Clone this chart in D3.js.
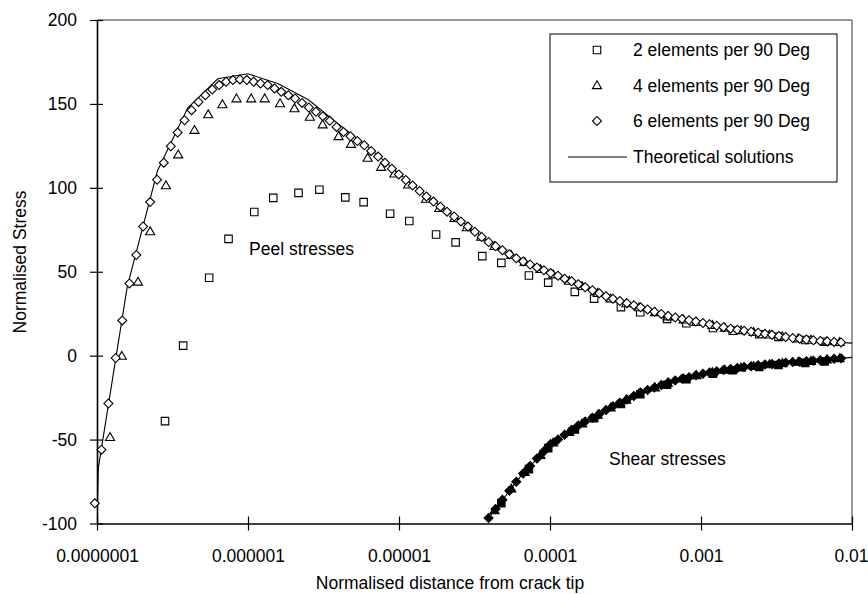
<!DOCTYPE html>
<html>
<head>
<meta charset="utf-8">
<script src="https://cdn.jsdelivr.net/npm/d3@7"></script>
<style>
  body { margin: 0; background: #fff; }
</style>
</head>
<body>
<div id="chart"></div>
<script>
// 6 elements per 90 Deg (diamonds)
const x6 = [
  9.67e-8, 1.07e-7, 1.19e-7, 1.33e-7, 1.47e-7, 1.64e-7, 1.82e-7, 2.02e-7, 2.25e-7, 2.50e-7,
  2.77e-7, 3.08e-7, 3.42e-7, 3.80e-7, 4.23e-7, 4.70e-7, 5.22e-7, 5.80e-7, 6.44e-7, 7.16e-7,
  7.95e-7, 8.84e-7, 9.82e-7, 1.09e-6, 1.21e-6, 1.35e-6, 1.50e-6, 1.66e-6, 1.85e-6, 2.05e-6,
  2.28e-6, 2.53e-6, 2.82e-6, 3.13e-6, 3.48e-6, 3.86e-6, 4.29e-6, 4.77e-6, 5.30e-6, 5.89e-6,
  6.54e-6, 7.27e-6, 8.08e-6, 8.97e-6, 9.97e-6, 1.11e-5, 1.23e-5, 1.37e-5, 1.52e-5, 1.69e-5,
  1.88e-5, 2.08e-5, 2.32e-5, 2.57e-5, 2.86e-5, 3.18e-5, 3.53e-5, 3.92e-5, 4.36e-5, 4.84e-5,
  5.38e-5, 5.98e-5, 6.64e-5, 7.38e-5, 8.20e-5, 9.11e-5, 1.01e-4, 1.13e-4, 1.25e-4, 1.39e-4,
  1.54e-4, 1.71e-4, 1.91e-4, 2.12e-4, 2.35e-4, 2.61e-4, 2.90e-4, 3.23e-4, 3.59e-4, 3.98e-4,
  4.43e-4, 4.92e-4, 5.46e-4, 6.07e-4, 6.75e-4, 7.50e-4, 8.33e-4, 9.25e-4, 1.03e-3, 1.14e-3,
  1.27e-3, 1.41e-3, 1.57e-3, 1.74e-3, 1.93e-3, 2.15e-3, 2.39e-3, 2.65e-3, 2.95e-3, 3.28e-3,
  3.64e-3, 4.05e-3, 4.50e-3, 4.99e-3, 5.55e-3, 6.17e-3, 6.85e-3, 7.61e-3, 8.46e-3
];
const peel6 = [
  -88, -56, -28.5, -1.4, 21, 43, 60, 77, 91.5, 104.8,
  115, 124.8, 132.9, 140.3, 146.3, 151.2, 155.2, 158.6, 161.2, 163.2,
  164.2, 164.6, 164.2, 163.2, 162.2, 161.2, 159.2, 157.2, 155.2, 153.2,
  150.6, 147.9, 145.3, 142.7, 139.9, 136.3, 133.3, 130.7, 127.9, 125.4,
  122, 118.6, 115, 111.4, 108, 104.7, 101.4, 98.1, 94.8, 91.8,
  88.8, 85.8, 82.9, 80, 76.9, 73.8, 70.7, 67.7, 65.2, 62.8,
  60.4, 58, 56.1, 54.3, 52.6, 50.9, 49.2, 47.6, 45.9, 44.3,
  42.6, 40.8, 39, 37.2, 35.4, 33.9, 32.6, 31.3, 30.1, 28.8,
  27.5, 26.2, 24.9, 23.6, 22.7, 21.9, 21.1, 20.3, 19.5, 18.7,
  17.8, 17, 16.1, 15.5, 14.9, 14.3, 13.7, 13, 12.4, 11.7,
  11.1, 10.5, 10.1, 9.6, 9.2, 8.8, 8.5, 8.2, 7.9
];
// shear values for the last points of x6
const shear6 = [
  -96.7, -91.3, -85.9, -80.5, -75.1, -70.2, -65.8, -61.3, -56.9, -52.6,
  -49.9, -47.1, -44.4, -41.6, -39.2, -37.0, -34.7, -32.4, -30.2, -28.1,
  -26.1, -24.0, -22.0, -20.5, -19.0, -17.5, -16.0, -14.8, -13.8, -12.8,
  -11.7, -10.8, -10.1, -9.3, -8.6, -7.9, -7.3, -6.8, -6.3, -5.7,
  -5.3, -4.9, -4.6, -4.2, -3.8, -3.6, -3.3, -3.0, -2.7, -2.3,
  -1.9, -1.6
];

// 4 elements per 90 Deg (triangles)
const x4 = [
  1.22e-7, 1.46e-7, 1.87e-7, 2.25e-7, 2.86e-7, 3.45e-7, 4.42e-7, 5.45e-7, 6.77e-7, 8.39e-7,
  1.05e-6, 1.29e-6, 1.63e-6, 2.03e-6, 2.57e-6, 3.12e-6, 3.98e-6, 4.81e-6, 6.20e-6, 7.61e-6,
  9.32e-6, 1.15e-5, 1.51e-5, 1.85e-5, 2.33e-5, 2.81e-5, 3.50e-5, 4.29e-5, 5.54e-5, 6.79e-5,
  8.64e-5, 1.05e-4, 1.34e-4, 1.63e-4, 2.07e-4, 2.52e-4, 3.20e-4, 3.89e-4, 4.96e-4, 6.03e-4,
  7.67e-4, 9.32e-4, 1.19e-3, 1.44e-3, 1.84e-3, 2.23e-3, 2.84e-3, 3.46e-3, 4.40e-3, 5.35e-3,
  6.81e-3, 8.28e-3
];
const peel4 = [
  -49, -0.6, 43.6, 73.6, 101, 119.4, 134, 143.3, 149.3, 152.8,
  152.8, 152.8, 149.9, 146.9, 141.8, 137.3, 130.3, 125.7, 117.4, 112,
  108, 101.5, 93, 87.5, 81.5, 76, 70.3, 64.8, 59.5, 55.3,
  51.1, 47.9, 44.1, 41.0, 36.9, 33.6, 30.7, 28.3, 25.4, 22.9,
  21.0, 19.6, 17.8, 16.2, 14.7, 13.6, 12.1, 11.0, 9.8, 9.0,
  8.1, 7.6
];
const shear4 = [
  -92.6, -79.6, -69.8, -59.6, -52.2, -45.9, -40.9, -35.7, -31.4, -26.7,
  -22.9, -19.4, -16.6, -14.1, -12.1, -10.3, -8.9, -7.6, -6.6, -5.6,
  -4.9, -4.1, -3.6, -2.8, -2.1
];

// 2 elements per 90 Deg (squares)
const x2 = [
  2.82e-7, 3.72e-7, 5.53e-7, 7.43e-7, 1.10e-6, 1.47e-6, 2.16e-6, 2.97e-6, 4.41e-6, 5.83e-6,
  8.73e-6, 1.17e-5, 1.76e-5, 2.37e-5, 3.56e-5, 4.76e-5, 7.25e-5, 9.73e-5, 1.46e-4, 1.96e-4,
  2.95e-4, 3.96e-4, 5.96e-4, 8.00e-4, 1.20e-3, 1.62e-3, 2.43e-3, 3.26e-3, 4.90e-3, 6.58e-3
];
const peel2 = [
  -39, 6, 46.4, 69.6, 85.6, 94, 97, 98.9, 94.3, 91.5,
  84.6, 80.2, 72.2, 67.5, 59.3, 55.3, 47.8, 43.5, 38, 34,
  28.9, 25.9, 21.9, 19.3, 16.5, 14.8, 12.8, 11.2, 9.3, 8.3
];
const shear2 = [
  -87.9, -67.6, -55.1, -44.0, -37.3, -28.8, -23.0, -17.3, -14.1, -10.7,
  -8.7, -6.7, -5.6, -4.3, -3.4
];

// theoretical solutions
const theoryPeelX = [
  1e-7, 1.02e-7, 1.585e-7, 2.512e-7, 3.981e-7, 6.31e-7, 1e-6, 1.585e-6, 2.512e-6, 3.981e-6,
  6.31e-6, 1e-5, 1.585e-5, 2.512e-5, 3.981e-5, 6.31e-5, 1e-4, 1.585e-4, 2.512e-4, 3.981e-4,
  6.31e-4, 1e-3, 1.585e-3, 2.512e-3, 3.981e-3, 6.31e-3, 1e-2
];
const theoryPeel = [
  -100, -67, 41, 110, 147.5, 165, 168, 162, 152.5, 138,
  124, 108.5, 94, 81, 67.5, 57, 49.5, 42.3, 34.4, 28.9,
  23.2, 19.8, 16.1, 13.4, 10.6, 8.7, 7.5
];
const theoryShearX = [3.981e-5, 6.31e-5, 1e-4, 1.585e-4, 2.512e-4, 3.981e-4, 6.31e-4, 1e-3, 1.585e-3, 2.512e-3, 3.981e-3, 6.31e-3, 1e-2];
const theoryShear = [-96, -72.5, -53, -41, -31, -22, -15.5, -11, -7.8, -5.5, -3.9, -2.6, -1];

const xTicks = [1e-7, 1e-6, 1e-5, 1e-4, 1e-3, 1e-2];
const xTickLabels = ["0.0000001", "0.000001", "0.00001", "0.0001", "0.001", "0.01"];
const yTicks = [-100, -50, 0, 50, 100, 150, 200];
const legendLabels = ["2 elements per 90 Deg", "4 elements per 90 Deg", "6 elements per 90 Deg", "Theoretical solutions"];

const width = 868, height = 594;
const plotL = 97, plotR = 852, plotT = 20, plotB = 523.5;

const svg = d3.select("#chart")
  .append("svg")
  .attr("width", width)
  .attr("height", height)
  .style("font-family", "'Liberation Sans', Arial, Helvetica, sans-serif")
  .style("font-size", "17.5px");

const x = d3.scaleLog().domain([1e-7, 1e-2]).range([plotL, plotR]);
const y = d3.scaleLinear().domain([-100, 200]).range([plotB, plotT]);

svg.append("clipPath").attr("id", "plot")
  .append("rect")
  .attr("x", plotL).attr("y", plotT)
  .attr("width", plotR - plotL).attr("height", plotB - plotT);

// frame top / right
svg.append("path")
  .attr("d", `M${plotL},${plotT}H${plotR}V${plotB}`)
  .attr("fill", "none")
  .attr("stroke", "#333")
  .attr("stroke-width", 1);

// axes (plain hyphen for negatives, like the original)
const yAxis = svg.append("g")
  .attr("transform", `translate(${plotL},0)`)
  .call(d3.axisLeft(y).tickValues(yTicks).tickFormat(d => String(d))
    .tickSizeInner(7).tickSizeOuter(0).tickPadding(13));
yAxis.selectAll(".tick line").attr("x1", 6);

const xAxis = svg.append("g")
  .attr("transform", `translate(0,${plotB})`)
  .call(d3.axisBottom(x).tickValues(xTicks).tickFormat((d, i) => xTickLabels[i])
    .tickSizeInner(7).tickSizeOuter(0).tickPadding(19));
xAxis.selectAll(".tick line").attr("y1", -7);
// last label sits at the page edge
xAxis.selectAll(".tick text").filter(d => d === 1e-2).attr("text-anchor", "end").attr("x", 16);

svg.selectAll(".domain").attr("stroke", "#000").attr("stroke-width", 1.6);
svg.selectAll(".tick line").attr("stroke", "#000").attr("stroke-width", 1.2);
svg.selectAll(".tick text")
  .attr("fill", "#000")
  .style("font-family", "'Liberation Sans', Arial, Helvetica, sans-serif")
  .style("font-size", "17.5px");

// theoretical lines
const line = d3.line().x(d => x(d[0])).y(d => y(d[1]));
const lines = svg.append("g").attr("clip-path", "url(#plot)");
lines.append("path")
  .datum(d3.zip(theoryPeelX, theoryPeel))
  .attr("d", line)
  .attr("fill", "none").attr("stroke", "#000").attr("stroke-width", 1.1);
lines.append("path")
  .datum(d3.zip(theoryShearX, theoryShear))
  .attr("d", line)
  .attr("fill", "none").attr("stroke", "#000").attr("stroke-width", 1.1);

// marker shapes
const sym = {
  square: d3.symbol(d3.symbolSquare, 56)(),
  triangle: d3.symbol(d3.symbolTriangle, 36)(),
  diamond: d3.symbol(d3.symbolSquare, 40)()
};

function drawMarkers(xs, ys, shape, fill) {
  const rot = shape === "diamond" ? " rotate(45)" : "";
  svg.append("g")
    .selectAll("path")
    .data(d3.zip(xs, ys))
    .enter()
    .append("path")
    .attr("d", sym[shape])
    .attr("transform", d => `translate(${x(d[0])},${y(d[1])})${rot}`)
    .attr("fill", fill)
    .attr("stroke", "#000")
    .attr("stroke-width", 1.1);
}

drawMarkers(x2, peel2, "square", "#fff");
drawMarkers(x4, peel4, "triangle", "#fff");
drawMarkers(x6, peel6, "diamond", "#fff");

drawMarkers(x2.slice(x2.length - shear2.length), shear2, "square", "#000");
drawMarkers(x4.slice(x4.length - shear4.length), shear4, "triangle", "#000");
drawMarkers(x6.slice(x6.length - shear6.length), shear6, "diamond", "#000");

// annotations
svg.append("text").attr("x", 249).attr("y", 255).text("Peel stresses");
svg.append("text").attr("x", 609).attr("y", 465).text("Shear stresses");

// axis titles
svg.append("text")
  .attr("x", 450).attr("y", 589)
  .attr("text-anchor", "middle")
  .text("Normalised distance from crack tip");
svg.append("text")
  .attr("transform", "translate(26,262) rotate(-90)")
  .attr("text-anchor", "middle")
  .text("Normalised Stress");

// legend
const legend = svg.append("g");
legend.append("rect")
  .attr("x", 550).attr("y", 34)
  .attr("width", 287).attr("height", 148)
  .attr("fill", "#fff").attr("stroke", "#000").attr("stroke-width", 1);

const rowY = [50, 86, 121, 157];
const legendShapes = ["square", "triangle", "diamond"];
legendShapes.forEach((s, i) => {
  legend.append("path")
    .attr("d", sym[s])
    .attr("transform", `translate(597,${rowY[i]})${s === "diamond" ? " rotate(45)" : ""}`)
    .attr("fill", "#fff").attr("stroke", "#000").attr("stroke-width", 1.1);
});
legend.append("line")
  .attr("x1", 568).attr("x2", 627)
  .attr("y1", rowY[3]).attr("y2", rowY[3])
  .attr("stroke", "#000").attr("stroke-width", 1.1);
legend.selectAll("text.lab")
  .data(legendLabels)
  .enter()
  .append("text")
  .attr("class", "lab")
  .attr("x", 633)
  .attr("y", (d, i) => rowY[i])
  .attr("dy", "0.35em")
  .text(d => d);
</script>
</body>
</html>
